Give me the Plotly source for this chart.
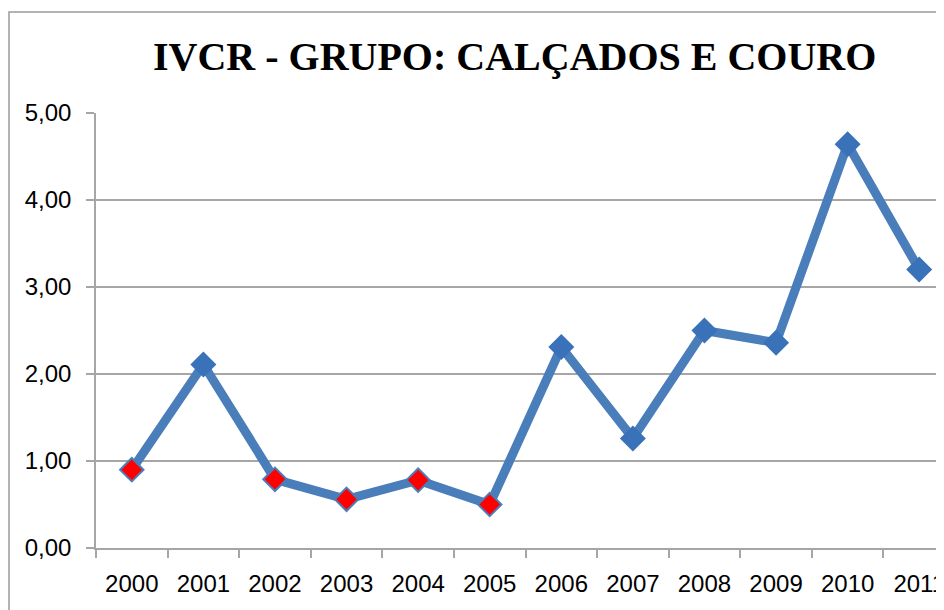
import plotly.graph_objects as go

years = ["2000", "2001", "2002", "2003", "2004", "2005",
         "2006", "2007", "2008", "2009", "2010", "2011"]
ivcr = [0.90, 2.11, 0.79, 0.56, 0.78, 0.50, 2.31, 1.26, 2.50, 2.36, 4.64, 3.20]
highlight = [True, False, True, True, True, True,
             False, False, False, False, False, False]
y_ticks = [0, 1, 2, 3, 4, 5]
y_labels = ["0,00", "1,00", "2,00", "3,00", "4,00", "5,00"]
title_text = "IVCR - GRUPO: CALÇADOS E COURO"

BLUE = "#4a7ebb"
MARK_BLUE = "#3a72b9"
RED = "#ff0000"
GRID = "#a6a6a6"

# page has an 8px body margin: figure is drawn offset by 8px
OFF = 8
W, H = 944 - OFF, 610 - OFF
L, R, T, B = 96 - OFF, 0, 113 - OFF, 610 - 548
pw, ph = W - L - R, H - T - B

def px(xp):
    return (xp - OFF - L) / pw

def py(yp):
    return (H - B - (yp - OFF)) / ph

fig = go.Figure()
fig.add_trace(go.Scatter(
    x=years, y=ivcr, mode="lines+markers",
    line=dict(color=BLUE, width=9),
    marker=dict(
        symbol="diamond",
        size=[18 if h else 20 for h in highlight],
        color=[RED if h else MARK_BLUE for h in highlight],
        opacity=1,
        line=dict(color=BLUE, width=[2 if h else 0 for h in highlight]),
    ),
    opacity=1,
    hoverinfo="x+y",
    cliponaxis=False,
))

fig.update_layout(
    width=W, height=H,
    margin=dict(l=L, r=R, t=T, b=B, autoexpand=False),
    paper_bgcolor="white", plot_bgcolor="white",
    showlegend=False,
    font=dict(family="Liberation Sans, Arial, sans-serif", color="black"),
    xaxis=dict(
        type="category",
        range=[-0.5, 11.5 - 11 / 71.6],
        automargin=False,
        tickson="boundaries",
        ticks="outside", ticklen=8, tickcolor=GRID, tickwidth=1.5,
        showline=True, linecolor=GRID, linewidth=1.5,
        showgrid=False, zeroline=False,
        tickfont=dict(size=24),
        ticklabelstandoff=13,
    ),
    yaxis=dict(
        range=[0, 5],
        automargin=False,
        tickvals=y_ticks, ticktext=y_labels,
        ticks="outside", ticklen=8, tickcolor=GRID, tickwidth=1.5,
        showline=True, linecolor=GRID, linewidth=1.5,
        showgrid=True, gridcolor=GRID, gridwidth=1.5,
        zeroline=False,
        tickfont=dict(size=24),
        ticklabelstandoff=10,
    ),
    annotations=[dict(
        text="<b>" + title_text + "</b>",
        xref="paper", yref="paper",
        x=px(514), y=py(57), xanchor="center", yanchor="middle",
        showarrow=False,
        font=dict(family="Liberation Serif, Times New Roman, serif", size=40, color="black"),
    )],
    shapes=[dict(
        type="rect", xref="paper", yref="paper",
        x0=px(9), x1=px(944 + 20), y0=py(610 + 20), y1=py(12),
        line=dict(color="#9a9a9a", width=1.5), fillcolor="rgba(0,0,0,0)",
        layer="below",
    )],
)

fig.write_html("out.html")
